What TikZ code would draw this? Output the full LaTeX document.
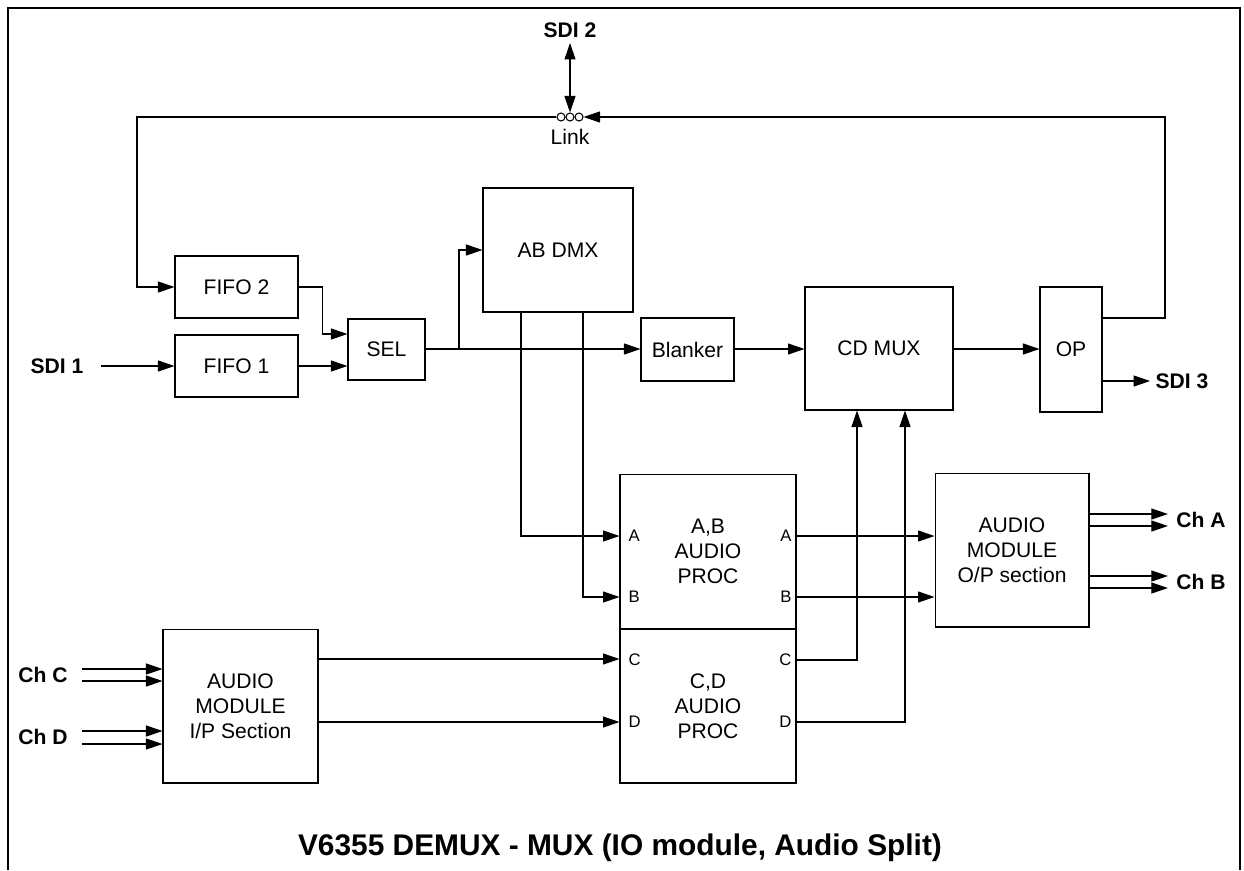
\documentclass[tikz,border=0pt]{standalone}
\usepackage{fontspec}
\setmainfont{Liberation Sans}
\usetikzlibrary{arrows.meta,calc}

\begin{document}
\begin{tikzpicture}[x=0.02cm,y=-0.02cm,line width=0.6pt,
  >={Triangle[length=0.33cm,width=0.22cm]},
  every node/.style={font=\fontsize{12}{14.2}\selectfont},
  blk/.style={draw,inner sep=0pt,align=center},
  port/.style={inner sep=0pt,font=\fontsize{9.5}{11}\selectfont},
  lbl/.style={inner sep=0.1cm,font=\fontsize{12}{14}\selectfont\bfseries},
  lk/.style={circle,draw,inner sep=0pt,minimum size=0.16cm},
  arr/.style={->}]
  \useasboundingbox (0,0) rectangle (1244,870);
  \draw[line width=1.5pt] (8,870) -- (8,8) -- (1240,8) -- (1240,870);

  \node[blk,minimum width=2.46cm,minimum height=1.24cm] (fifo2) at (236.5,287) {FIFO 2};
  \node[blk,minimum width=2.46cm,minimum height=1.24cm] (fifo1) at (236.5,366) {FIFO 1};
  \node[blk,minimum width=1.54cm,minimum height=1.22cm] (sel) at (386.5,349.5) {SEL};
  \node[blk,minimum width=3.00cm,minimum height=2.48cm] (abdmx) at (558,250) {AB DMX};
  \node[blk,minimum width=1.86cm,minimum height=1.26cm] (blanker) at (687.5,349.5) {Blanker};
  \node[blk,minimum width=2.96cm,minimum height=2.46cm] (cdmux) at (879,348.5) {CD MUX};
  \node[blk,minimum width=1.24cm,minimum height=2.50cm] (op) at (1071,349.5) {OP};
  \node[blk,minimum width=3.52cm,minimum height=3.10cm] (abproc) at (708,551.5) {A,B\\AUDIO\\PROC};
  \node[blk,minimum width=3.52cm,minimum height=3.08cm] (cdproc) at (708,706) {C,D\\AUDIO\\PROC};
  \node[blk,minimum width=3.08cm,minimum height=3.08cm] (opsec) at (1012,550) {AUDIO\\MODULE\\O/P section};
  \node[blk,minimum width=3.10cm,minimum height=3.08cm] (ipsec) at (240.5,706) {AUDIO\\MODULE\\I/P Section};

  \node[port,anchor=west] (pai) at (628,536) {A};
  \node[port,anchor=west] (pbi) at (628,597) {B};
  \node[port,anchor=west] (pci) at (628,660) {C};
  \node[port,anchor=west] (pdi) at (628,722) {D};
  \node[port,anchor=east] (pao) at (792,536) {A};
  \node[port,anchor=east] (pbo) at (792,597) {B};
  \node[port,anchor=east] (pco) at (792,660) {C};
  \node[port,anchor=east] (pdo) at (792,722) {D};

  \node[lbl] (sdi2) at (570,30) {SDI 2};
  \node[lbl] (sdi1) at (57,366) {SDI 1};
  \node[lbl] (sdi3) at (1182,381) {SDI 3};
  \node[lbl] (chc) at (43,675) {Ch C};
  \node[lbl] (chd) at (43,737) {Ch D};
  \node[lbl] (cha) at (1201,520) {Ch A};
  \node[lbl] (chb) at (1201,582) {Ch B};
  \node[lk] (l1) at (561,117) {};
  \node[lk] (l2) at (570,117) {};
  \node[lk] (l3) at (579,117) {};
  \node (link) at (570,137) {Link};
  \node[anchor=base,font=\fontsize{17}{20}\selectfont\bfseries] (title) at (620,855)
    {V6355 DEMUX - MUX (IO module, Audio Split)};

  \draw[<->] (sdi2) -- (l2);
  \draw[arr] (l1.west) -| (fifo2.west -| 137,0) -- (fifo2.west);
  \draw[arr] (op.east |- 0,318) -| (l3.east -| 1165,0) -- (l3.east);
  \draw[arr] ($(sdi1.east)+(12,0)$) -- (fifo1.west |- sdi1.east);
  \draw[arr] (fifo2.east) -- ++(24,0) |- (sel.west |- 0,334);
  \draw[arr] (fifo1.east) -- (sel.west |- fifo1.east);
  \draw[arr] (sel.east |- 0,349) -- (blanker.west |- 0,349);
  \coordinate (br) at (459,349);
  \draw[arr] (br) |- (abdmx.west);
  \draw[arr] (blanker.east |- 0,349) -- (cdmux.west |- 0,349);
  \draw[arr] (cdmux.east |- 0,349) -- (op.west |- 0,349);
  \draw[arr] (op.east |- sdi3) -- (sdi3.west);
  \draw[arr] (abdmx.south -| 521,0) |- (abproc.west |- pai);
  \draw[arr] (abdmx.south -| 583,0) |- (abproc.west |- pbi);
  \draw[arr] (abproc.east |- pao) -- (opsec.west |- pao);
  \draw[arr] (abproc.east |- pbo) -- (opsec.west |- pbo);
  \draw[arr] (cdproc.east |- pco) -| (cdmux.south -| 857,0);
  \draw[arr] (cdproc.east |- pdo) -| (cdmux.south -| 905,0);
  \draw[arr] (ipsec.east |- 0,659) -- (cdproc.west |- 0,659);
  \draw[arr] (ipsec.east |- pdi) -- (cdproc.west |- pdi);
  \draw[arr] ($(chc.east)+(9,-6)$) -- (ipsec.west |- 0,669);
  \draw[arr] ($(chc.east)+(9,6)$) -- (ipsec.west |- 0,681);
  \draw[arr] ($(chd.east)+(9,-6)$) -- (ipsec.west |- 0,731);
  \draw[arr] ($(chd.east)+(9,7)$) -- (ipsec.west |- 0,744);
  \draw[arr] (opsec.east |- 0,514) -- ($(cha.west)+(-3,-6)$);
  \draw[arr] (opsec.east |- 0,526) -- ($(cha.west)+(-3,6)$);
  \draw[arr] (opsec.east |- 0,576) -- ($(chb.west)+(-3,-6)$);
  \draw[arr] (opsec.east |- 0,588) -- ($(chb.west)+(-3,6)$);
\end{tikzpicture}
\end{document}
